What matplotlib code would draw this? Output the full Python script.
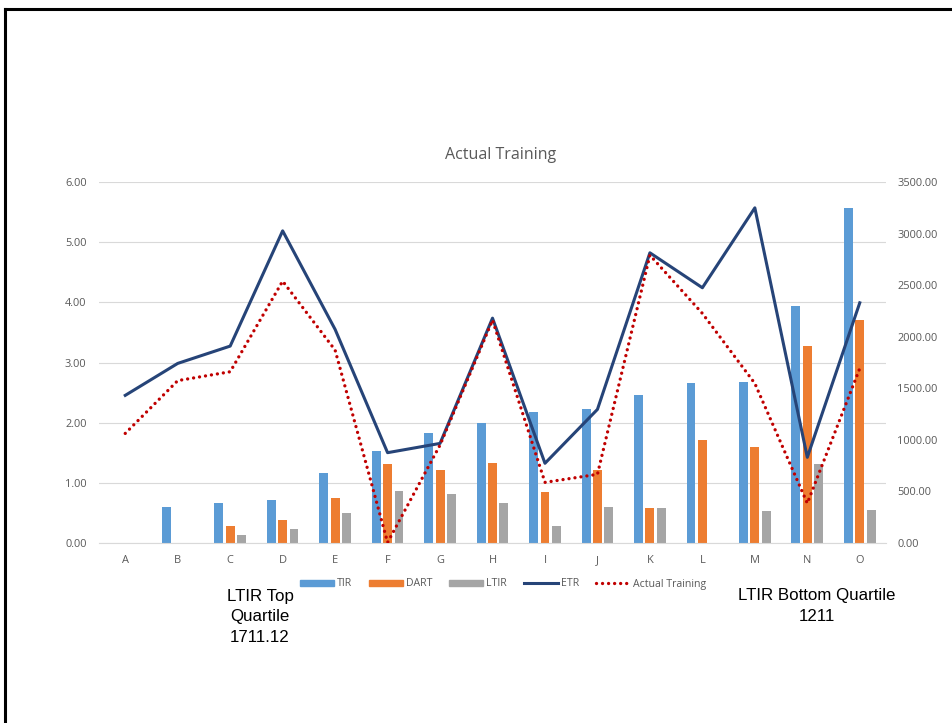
import numpy as np
import matplotlib.pyplot as plt
from matplotlib.lines import Line2D
from matplotlib.patches import Patch

# data
sites = ['A', 'B', 'C', 'D', 'E', 'F', 'G', 'H', 'I', 'J', 'K', 'L', 'M', 'N', 'O']
tir = [0, 0.60, 0.66, 0.71, 1.16, 1.53, 1.83, 2.00, 2.17, 2.23, 2.46, 2.66, 2.67, 3.94, 5.57]
dart = [0, 0, 0.28, 0.39, 0.75, 1.31, 1.22, 1.33, 0.84, 1.21, 0.58, 1.71, 1.59, 3.28, 3.71]
ltir = [0, 0, 0.13, 0.23, 0.50, 0.87, 0.81, 0.66, 0.28, 0.59, 0.58, 0, 0.53, 1.31, 0.55]
etr = [1432, 1742, 1910, 3028, 2072, 876, 966, 2181, 773, 1296, 2815, 2476, 3251, 831, 2330]
actual = [1063, 1575, 1661, 2540, 1871, 5, 950, 2162, 588, 666, 2792, 2227, 1548, 385, 1694]

c_tir = '#5B9BD5'
c_dart = '#ED7D31'
c_ltir = '#A5A5A5'
c_etr = '#264478'
c_act = '#C00000'
grey_txt = '#595959'

plt.rcParams['font.family'] = ['Open Sans', 'DejaVu Sans']

fig = plt.figure(figsize=(9.53, 7.23), dpi=100)
ax = fig.add_axes([0.1039, 0.249, 0.8258, 0.499])
ax2 = ax.twinx()

x = np.arange(len(sites))
w = 0.17
off = 0.217
ax.bar(x - off, tir, w, color=c_tir, zorder=2)
ax.bar(x, dart, w, color=c_dart, zorder=2)
ax.bar(x + off, ltir, w, color=c_ltir, zorder=2)

ax2.plot(x, etr, color=c_etr, lw=2.2, zorder=3)
ax2.plot(x, actual, color=c_act, lw=2.4, linestyle=(0, (0.01, 1.8)),
         dash_capstyle='round', zorder=4)

ax.set_xlim(-0.5, len(sites) - 0.5)
ax.set_ylim(0, 6)
ax2.set_ylim(0, 3500)
ax.set_yticks(np.arange(0, 7, 1))
ax.set_yticklabels([f'{v:.2f}' for v in np.arange(0, 7, 1)])
ax2.set_yticks(np.arange(0, 3501, 500))
ax2.set_yticklabels([f'{v:.2f}' for v in np.arange(0, 3501, 500)])
ax.set_xticks(x)
ax.set_xticklabels(sites)

ax.grid(axis='y', color='#D9D9D9', lw=0.8, zorder=0)
ax.set_axisbelow(True)
for a in (ax, ax2):
    for s in a.spines.values():
        s.set_visible(False)
    a.tick_params(length=0, labelsize=7.9, labelcolor=grey_txt)
ax.spines['bottom'].set_visible(True)
ax.spines['bottom'].set_color('#D9D9D9')
ax.tick_params(axis='y', pad=9)
ax.tick_params(axis='x', pad=9)
ax2.tick_params(axis='y', pad=8)

fig.text(501 / 953, 1 - 155 / 723, 'Actual Training', ha='center', va='center',
         fontsize=11.5, color=grey_txt)

handles = [
    Patch(color=c_tir, label='TIR'),
    Patch(color=c_dart, label='DART'),
    Patch(color=c_ltir, label='LTIR'),
    Line2D([], [], color=c_etr, lw=2.2, label='ETR'),
    Line2D([], [], color=c_act, lw=2.4, linestyle=(0, (0.01, 1.8)),
           dash_capstyle='round', label='Actual Training'),
]
leg = fig.legend(handles=handles, loc='center', bbox_to_anchor=(503 / 953, 1 - 584 / 723),
                 ncol=5, frameon=False, fontsize=7.6, handlelength=3.2,
                 handleheight=0.55, columnspacing=1.6, handletextpad=0.3)
for t in leg.get_texts():
    t.set_color(grey_txt)

fig.text(260 / 953, 1 - 617 / 723, 'LTIR Top\nQuartile\n1711.12', ha='center', va='center',
         fontsize=12.2, family='Liberation Sans', linespacing=1.48)
fig.text(817 / 953, 1 - 606 / 723, 'LTIR Bottom Quartile\n1211', ha='center', va='center',
         fontsize=12.2, family='Liberation Sans', linespacing=1.48)

# black frame edges of the original screenshot
fig.add_artist(Line2D([5 / 953, 1], [1 - 8.5 / 723, 1 - 8.5 / 723], color='black', lw=2.2))
fig.add_artist(Line2D([5 / 953, 5 / 953], [0, 1 - 8.5 / 723], color='black', lw=2.2))

fig.savefig('out.png', dpi=100)
